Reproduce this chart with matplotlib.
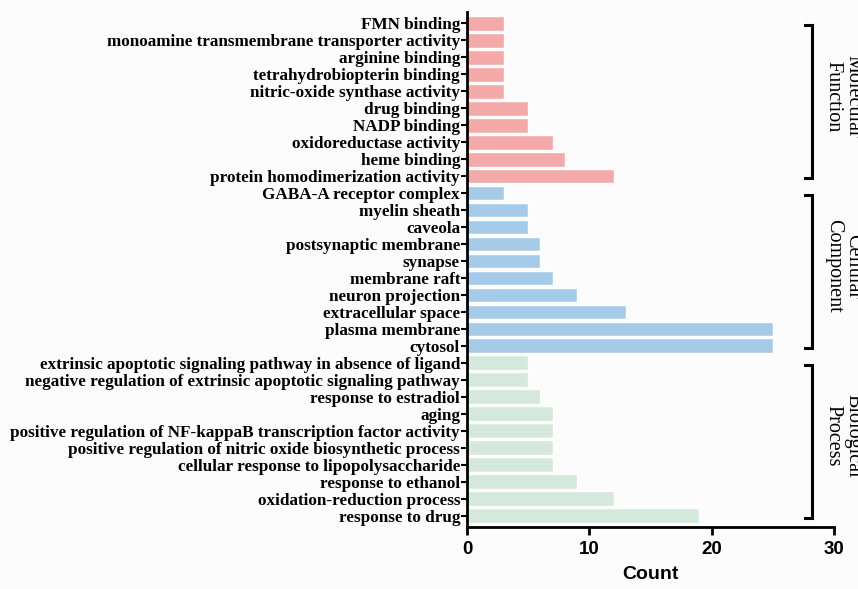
import matplotlib.pyplot as plt

# GO terms, top to bottom as shown
mf_terms = ['FMN binding', 'monoamine transmembrane transporter activity', 'arginine binding',
            'tetrahydrobiopterin binding', 'nitric-oxide synthase activity', 'drug binding',
            'NADP binding', 'oxidoreductase activity', 'heme binding',
            'protein homodimerization activity']
mf_counts = [3, 3, 3, 3, 3, 5, 5, 7, 8, 12]

cc_terms = ['GABA-A receptor complex', 'myelin sheath', 'caveola', 'postsynaptic membrane',
            'synapse', 'membrane raft', 'neuron projection', 'extracellular space',
            'plasma membrane', 'cytosol']
cc_counts = [3, 5, 5, 6, 6, 7, 9, 13, 25, 25]

bp_terms = ['extrinsic apoptotic signaling pathway in absence of ligand',
            'negative regulation of extrinsic apoptotic signaling pathway',
            'response to estradiol', 'aging',
            'positive regulation of NF-kappaB transcription factor activity',
            'positive regulation of nitric oxide biosynthetic process',
            'cellular response to lipopolysaccharide', 'response to ethanol',
            'oxidation-reduction process', 'response to drug']
bp_counts = [5, 5, 6, 7, 7, 7, 7, 9, 12, 19]

groups = [('Molecular\nFunction', mf_terms, mf_counts, '#f4aaa8'),
          ('Cellular\nComponent', cc_terms, cc_counts, '#a6cbe8'),
          ('Biological\nProcess', bp_terms, bp_counts, '#d4e8dc')]

fig = plt.figure(figsize=(8.58, 5.89), dpi=100, facecolor='#fcfcfc')
ax = fig.add_axes([0.5443, 0.1053, 0.4277, 0.8743])
ax.set_facecolor('#fcfcfc')

labels = []
n_total = sum(len(g[1]) for g in groups)
pos = n_total - 1
for name, terms, counts, color in groups:
    ys = list(range(pos, pos - len(terms), -1))
    ax.barh(ys, counts, height=0.88, color=color, edgecolor='white', linewidth=1)
    labels += list(zip(ys, terms))
    # bracket
    top, bot = ys[0] - 0.1, ys[-1] - 0.1
    ax.plot([27.65, 28.2, 28.2, 27.65], [top, top, bot, bot], color='black', lw=2.2,
            clip_on=False, solid_joinstyle='miter')
    ax.text(30.75, (top + bot) / 2 + 0.3, name, rotation=-90, ha='center', va='center',
            fontsize=14.5, family='Liberation Serif', linespacing=1.05, clip_on=False)
    pos -= len(terms)

ys, names = zip(*labels)
ax.set_yticks(ys)
ax.set_yticklabels(names, family='Liberation Serif', fontweight='bold', fontsize=12.3)
ax.set_ylim(-0.65, n_total - 0.35)
ax.set_xlim(0, 30)
ax.set_xticks([0, 10, 20, 30])
for t in ax.get_xticklabels():
    t.set_family('Liberation Sans')
    t.set_fontweight('bold')
    t.set_fontsize(13.5)
ax.set_xlabel('Count', family='Liberation Sans', fontweight='bold', fontsize=14, labelpad=6)

for s in ['top', 'right']:
    ax.spines[s].set_visible(False)
for s in ['left', 'bottom']:
    ax.spines[s].set_linewidth(2)
ax.tick_params(axis='y', length=4, width=1.5, pad=1)
ax.tick_params(axis='x', length=6, width=2, pad=4)

fig.savefig('out.png', dpi=100, facecolor=fig.get_facecolor())
